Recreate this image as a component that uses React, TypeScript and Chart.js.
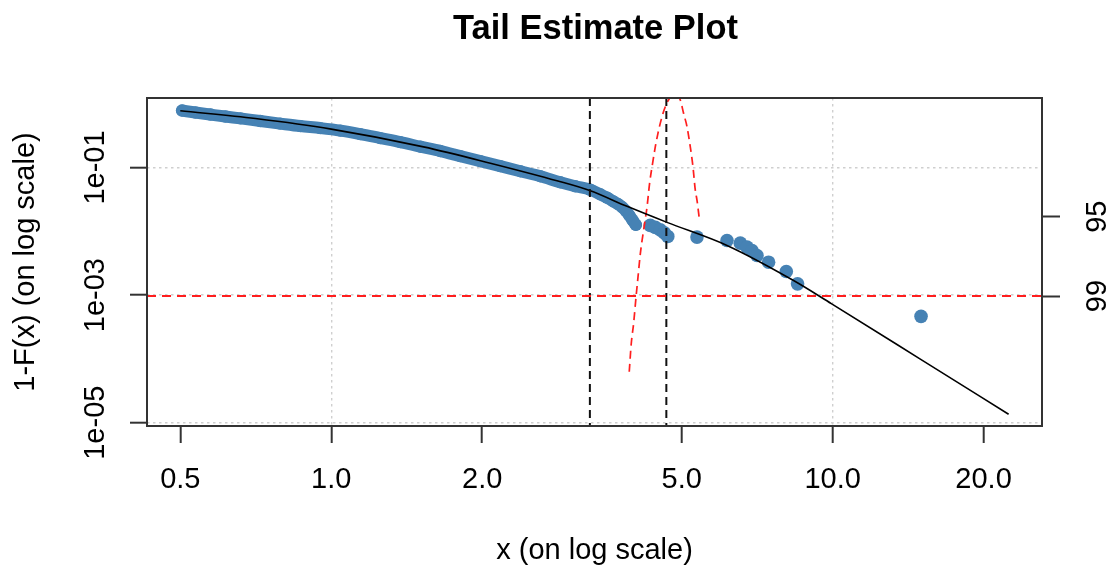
import React, { useEffect, useRef } from 'react';
import { Chart, registerables } from 'chart.js';

Chart.register(...registerables);

// ---- axis ticks / labels ----
const xTickValues = [0.5, 1, 2, 5, 10, 20];
const xGridValues = [1, 10];
const yTickValues = [1e-1, 1e-3, 1e-5];
const yTickLabels = ['1e-01', '1e-03', '1e-05'];
const confTickValues = [-1.9207, -3.3174];
const confTickLabels = ['95', '99'];
const ciLevelValue = -3.3174;

// ---- axis limits ----
const xLimits = [0.4291, 26.16];
const yLimits = [8.87e-6, 1.229];
const confLimits = [-5.607, 0.17];

// ---- empirical tail (dense part) ----
const bandX = [0.504, 0.536, 0.574, 0.615, 0.659, 0.722, 0.791, 0.868, 0.951, 1.043, 1.143, 1.253, 1.374, 1.506, 1.651, 1.809, 1.983, 2.174, 2.383, 2.612, 2.863, 3.068, 3.287, 3.441, 3.553, 3.653, 3.738, 3.807, 3.877, 3.931, 3.986, 4.051];
const bandY = [0.782, 0.727, 0.676, 0.629, 0.589, 0.535, 0.488, 0.446, 0.415, 0.379, 0.334, 0.289, 0.25, 0.212, 0.181, 0.151, 0.126, 0.105, 0.0874, 0.073, 0.0587, 0.0508, 0.0448, 0.038, 0.0335, 0.0295, 0.0265, 0.0238, 0.0206, 0.0178, 0.0151, 0.0126];

// ---- empirical tail (sparse points) ----
const tailX = [4.328, 4.43, 4.532, 4.617, 4.691, 5.364, 6.157, 6.545, 6.749, 6.906, 7.067, 7.452, 8.084, 8.513, 15.01];
const tailY = [0.01238, 0.01151, 0.01052, 0.00944, 0.00831, 0.00811, 0.00719, 0.00652, 0.00564, 0.00501, 0.00418, 0.00328, 0.00234, 0.0015, 0.000464];

// ---- fitted GPD tail ----
const fitX = [0.5, 0.706, 1.0, 1.528, 2.077, 2.82, 3.287, 3.89, 4.674, 6.157, 8.359, 9.94, 14.96, 22.44];
const fitY = [0.776, 0.585, 0.4, 0.2108, 0.1168, 0.062, 0.0432, 0.0246, 0.0138, 0.006, 0.00169, 0.000735, 9.93e-5, 1.355e-5];

// ---- profile likelihood (right axis) ----
const profX = [3.93, 3.967, 4.01, 4.055, 4.092, 4.136, 4.198, 4.265, 4.315, 4.375, 4.43, 4.484, 4.568, 4.653, 4.746, 4.855, 4.968, 5.044, 5.124, 5.201, 5.266, 5.322, 5.364, 5.421];
const profY = [-4.651, -4.15, -3.798, -3.33, -2.977, -2.565, -2.155, -1.745, -1.332, -0.98, -0.688, -0.452, -0.16, 0.047, 0.182, 0.24, 0.135, -0.1, -0.336, -0.688, -1.04, -1.45, -1.627, -1.949];

// ---- vertical reference lines ----
const vLineX = [3.28, 4.66];

const TITLE = 'Tail Estimate Plot';
const X_TITLE = 'x (on log scale)';
const Y_TITLE = '1-F(x) (on log scale)';

const FONT = "'Liberation Sans', Arial, Helvetica, sans-serif";
const STEEL = 'rgb(70,130,180)';

const pairs = (xs: number[], ys: number[]) => xs.map((x, i) => ({ x, y: ys[i] }));

const extrasPlugin = {
  id: 'extras',
  afterDatasetsDraw(chart: any) {
    const { ctx, chartArea: a, scales } = chart;
    ctx.save();
    ctx.beginPath();
    ctx.rect(a.left, a.top, a.right - a.left, a.bottom - a.top);
    ctx.clip();
    // vertical dashed lines
    ctx.strokeStyle = '#111';
    ctx.lineWidth = 2;
    ctx.setLineDash([8, 5]);
    vLineX.forEach((v) => {
      const px = scales.x.getPixelForValue(v);
      ctx.beginPath();
      ctx.moveTo(px, a.top);
      ctx.lineTo(px, a.bottom);
      ctx.stroke();
    });
    // horizontal red dashed confidence line
    const py = scales.y2.getPixelForValue(ciLevelValue);
    ctx.strokeStyle = 'rgb(255,30,30)';
    ctx.lineWidth = 2;
    ctx.setLineDash([9, 6]);
    ctx.beginPath();
    ctx.moveTo(a.left, py);
    ctx.lineTo(a.right, py);
    ctx.stroke();
    ctx.restore();

    // box
    ctx.save();
    ctx.strokeStyle = '#333';
    ctx.lineWidth = 2;
    ctx.setLineDash([]);
    ctx.strokeRect(a.left, a.top, a.right - a.left, a.bottom - a.top);
    ctx.restore();

    // main title
    ctx.save();
    ctx.fillStyle = '#000';
    ctx.font = `bold 34.5px ${FONT}`;
    ctx.textAlign = 'center';
    ctx.textBaseline = 'alphabetic';
    ctx.fillText(TITLE, (a.left + a.right) / 2 + 1, 39);
    ctx.restore();
  },
};

export default function App() {
  const ref = useRef<HTMLCanvasElement | null>(null);
  useEffect(() => {
    if (!ref.current) return;
    Chart.defaults.font.family = FONT;
    Chart.defaults.color = '#000';
    const chart = new Chart(ref.current, {
      type: 'scatter',
      data: {
        datasets: [
          {
            label: 'fit',
            data: pairs(fitX, fitY),
            showLine: true,
            borderColor: '#000',
            borderWidth: 1.6,
            pointRadius: 0,
            cubicInterpolationMode: 'monotone',
            xAxisID: 'x',
            yAxisID: 'y',
          },
          {
            label: 'profile',
            data: pairs(profX, profY),
            showLine: true,
            borderColor: 'rgb(255,30,30)',
            borderWidth: 1.7,
            borderDash: [8, 5],
            pointRadius: 0,
            cubicInterpolationMode: 'monotone',
            xAxisID: 'x',
            yAxisID: 'y2',
          },
          {
            label: 'tail',
            data: pairs(tailX, tailY),
            showLine: false,
            backgroundColor: STEEL,
            borderColor: STEEL,
            borderWidth: 0,
            pointRadius: 6.8,
            xAxisID: 'x',
            yAxisID: 'y',
          },
          {
            label: 'band',
            data: pairs(bandX, bandY),
            showLine: true,
            borderColor: STEEL,
            borderWidth: 12,
            borderCapStyle: 'round',
            borderJoinStyle: 'round',
            backgroundColor: STEEL,
            pointRadius: 6.2,
            pointBorderWidth: 0,
            cubicInterpolationMode: 'monotone',
            xAxisID: 'x',
            yAxisID: 'y',
          },
        ],
      },
      options: {
        animation: false,
        responsive: false,
        events: [],
        layout: { padding: { top: 98, left: 0, right: 0, bottom: 0 } },
        plugins: { legend: { display: false }, tooltip: { enabled: false }, title: { display: false } },
        scales: {
          x: {
            type: 'logarithmic',
            position: 'bottom',
            min: xLimits[0],
            max: xLimits[1],
            afterBuildTicks: (s: any) => {
              s.ticks = xTickValues.map((v) => ({ value: v }));
            },
            afterFit: (s: any) => {
              s.height = 143;
            },
            ticks: {
              autoSkip: false,
              maxRotation: 0,
              minRotation: 0,
              padding: 19.6,
              font: { size: 29 },
              color: '#000',
              callback: (v: any) => Number(v).toFixed(1),
            },
            grid: {
              color: (c: any) => (c.tick && xGridValues.includes(c.tick.value) ? '#cfcfcf' : 'rgba(0,0,0,0)'),
              lineWidth: 1.4,
              drawTicks: true,
              tickLength: 17,
              tickWidth: 2,
              tickColor: '#333',
              tickBorderDash: [],
            },
            border: { display: false, dash: [2.5, 3.5] },
            title: { display: true, text: X_TITLE, font: { size: 29 }, color: '#000', padding: { top: 0, bottom: 0.7 } },
          },
          y: {
            type: 'logarithmic',
            position: 'left',
            min: yLimits[0],
            max: yLimits[1],
            afterBuildTicks: (s: any) => {
              s.ticks = yTickValues.map((v) => ({ value: v }));
            },
            afterFit: (s: any) => {
              s.width = 147;
            },
            ticks: {
              autoSkip: false,
              minRotation: 90,
              maxRotation: 90,
              crossAlign: 'center',
              padding: -3.1,
              font: { size: 29 },
              color: '#000',
              callback: (v: any) => {
                const i = yTickValues.findIndex((t) => Math.abs(Math.log10(t) - Math.log10(Number(v))) < 1e-6);
                return i >= 0 ? yTickLabels[i] : '';
              },
            },
            grid: {
              color: '#cfcfcf',
              lineWidth: 1.4,
              drawTicks: true,
              tickLength: 17,
              tickWidth: 2,
              tickColor: '#333',
              tickBorderDash: [],
            },
            border: { display: false, dash: [2.5, 3.5] },
            title: { display: true, text: Y_TITLE, font: { size: 29 }, color: '#000', padding: { top: 8.4, bottom: 0 } },
          },
          y2: {
            type: 'linear',
            position: 'right',
            min: confLimits[0],
            max: confLimits[1],
            afterBuildTicks: (s: any) => {
              s.ticks = confTickValues.map((v) => ({ value: v }));
            },
            afterFit: (s: any) => {
              s.width = 73;
            },
            ticks: {
              autoSkip: false,
              minRotation: 90,
              maxRotation: 90,
              crossAlign: 'center',
              padding: 21.9,
              font: { size: 29 },
              color: '#000',
              callback: (v: any) => {
                const i = confTickValues.findIndex((t) => Math.abs(t - Number(v)) < 1e-6);
                return i >= 0 ? confTickLabels[i] : '';
              },
            },
            grid: {
              drawOnChartArea: false,
              drawTicks: true,
              tickLength: 18,
              tickWidth: 2,
              tickColor: '#333',
            },
            border: { display: false },
          },
        },
      } as any,
      plugins: [extrasPlugin],
    });
    return () => chart.destroy();
  }, []);

  return (
    <canvas
      ref={ref}
      width={1115}
      height={569}
      style={{ position: 'fixed', left: 0, top: 0, width: 1115, height: 569, background: '#fff' }}
    />
  );
}
